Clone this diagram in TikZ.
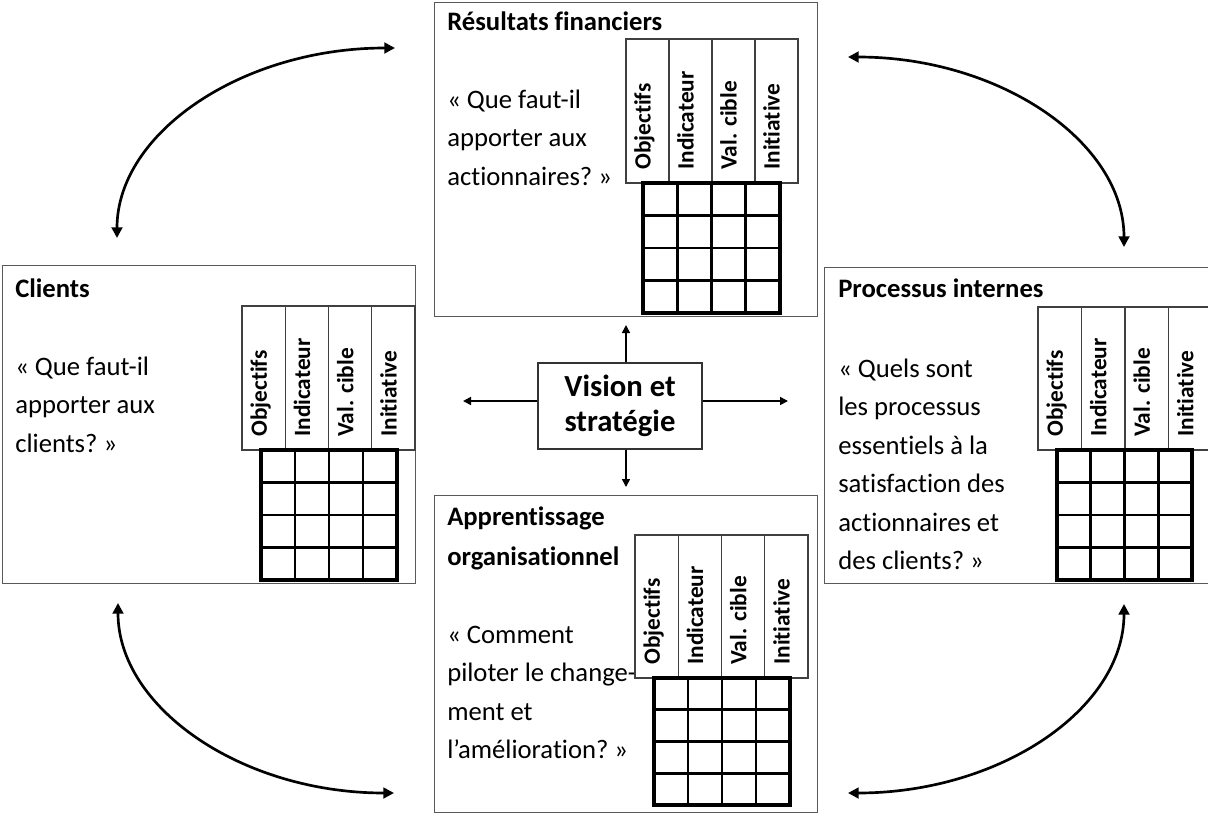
\documentclass[tikz,border=0pt]{standalone}
\usepackage{fontspec}
\setmainfont{Carlito}[Ligatures={TeX,NoCommon}]
\usetikzlibrary{arrows.meta}
\tikzset{
 box/.style={draw=black!65, line width=1.1pt, fill=white, inner sep=0pt, anchor=north west},
 ttl/.style={font=\fontsize{20}{24}\selectfont\bfseries, anchor=base west, inner sep=0pt},
 body/.style={font=\fontsize{20}{28.9}\selectfont, anchor=base west, inner sep=0pt},
 hdr/.style={draw=black!75, line width=1pt, fill=white},
 hlab/.style={font=\fontsize{17.5}{20}\selectfont\bfseries, rotate=90, anchor=mid west, inner sep=0pt},
 gridout/.style={line width=2.7pt},
 gridin/.style={line width=1.9pt},
 bigarr/.style={line width=2pt, {Triangle[length=8pt,width=8pt]}-{Triangle[length=8pt,width=8pt]}},
 visarr/.style={line width=1.2pt, -{Triangle[length=6pt,width=6pt]}},
 visbox/.style={draw=black!80, line width=1.1pt, fill=white, minimum width=123pt, minimum height=64.5pt, align=center, font=\fontsize{23}{26}\selectfont\bfseries, inner sep=0pt},
}
\newcommand\bschead[5]{%
 \foreach \i/\t in {0/Objectifs,1/Indicateur,2/Val. cible,3/Initiative}{
   \draw[hdr] ({#2+\i*(#4-#2)/4},#3) rectangle ({#2+(\i+1)*(#4-#2)/4},#5);
   \node[hlab] (#1-\i) at ({#2+(\i+0.5)*(#4-#2)/4},#5-13) {\t};
 }}
\newcommand\bscgrid[4]{%
 \fill[white] (#1,#2) rectangle (#3,#4);
 \foreach \i in {1,2,3}{
  \draw[gridin] ({#1+\i*(#3-#1)/4},#2) -- ({#1+\i*(#3-#1)/4},#4);
  \draw[gridin] (#1,{#2+\i*(#4-#2)/4}) -- (#3,{#2+\i*(#4-#2)/4});
 }
 \draw[gridout] (#1,#2) rectangle (#3,#4);
}
\begin{document}
\begin{tikzpicture}[x=0.75pt,y=-0.75pt]
\useasboundingbox (0,0) rectangle (1208,814);
\clip (0,0) rectangle (1208,814);

% panels
\node[box, minimum width=287.25pt, minimum height=235.5pt] (fin) at (434,2) {};
\node[box, minimum width=309.75pt, minimum height=238.5pt] (cli) at (2,265) {};
\node[box, minimum width=293.25pt, minimum height=237pt] (pro) at (824,267) {};
\node[box, minimum width=287.25pt, minimum height=237.75pt] (app) at (434,495) {};

% titles
\node[ttl] (finT) at (447,30) {Résultats financiers};
\node[ttl] (cliT) at (15,297) {Clients};
\node[ttl] (proT) at (838,297) {Processus internes};
\node[ttl, font=\fontsize{20}{30}\selectfont\bfseries] (appT) at (447,525) {\parbox[t]{200pt}{\raggedright Apprentissage\\organisationnel}};

% questions
\node[body] (finQ) at (447,108) {\parbox[t]{200pt}{\raggedright «~Que faut-il\\apporter aux\\actionnaires?~»}};
\node[body] (cliQ) at (15,375) {\parbox[t]{200pt}{\raggedright «~Que faut-il\\apporter aux\\clients?~»}};
\node[body] (proQ) at (838,377) {\parbox[t]{200pt}{\raggedright «~Quels sont\\les processus\\essentiels à la\\satisfaction des\\actionnaires et\\des clients?~»}};
\node[body] (appQ) at (447,643) {\parbox[t]{200pt}{\raggedright «~Comment\\piloter le change-\\ment et\\l’amélioration?~»}};

% headers and grids
\bschead{finH}{626}{39}{798}{183}
\bscgrid{643}{183}{780}{313}
\bschead{cliH}{242}{306}{415}{450}
\bscgrid{261}{450}{397}{580}
\bschead{proH}{1038}{307}{1212}{450}
\bscgrid{1057}{450}{1192}{580}
\bschead{appH}{635}{535}{808}{678}
\bscgrid{654}{678}{790}{805}

% vision
\node[visbox] (vis) at (620,406) {Vision et\\stratégie};
\coordinate (vU) at (626,325);
\coordinate (vD) at (626,487);
\coordinate (vL) at (463,401);
\coordinate (vR) at (788,401);
\draw[visarr] (vis.north -| vU) -- (vU);
\draw[visarr] (vis.south -| vD) -- (vD);
\draw[visarr] (vis.west |- vL) -- (vL);
\draw[visarr] (vis.east |- vR) -- (vR);

% curved arrows
\coordinate (tlA) at (117,238); \coordinate (tlB) at (395,48);
\coordinate (trA) at (848,57);  \coordinate (trB) at (1124,247);
\coordinate (blA) at (118,603); \coordinate (blB) at (394,793);
\coordinate (brA) at (1124,604); \coordinate (brB) at (848,793);
\draw[bigarr] (tlA) .. controls (117,133) and (242,48) .. (tlB);
\draw[bigarr] (trA) .. controls (1000,57) and (1124,142) .. (trB);
\draw[bigarr] (blA) .. controls (118,708) and (242,793) .. (blB);
\draw[bigarr] (brA) .. controls (1124,709) and (1000,793) .. (brB);
\end{tikzpicture}
\end{document}
